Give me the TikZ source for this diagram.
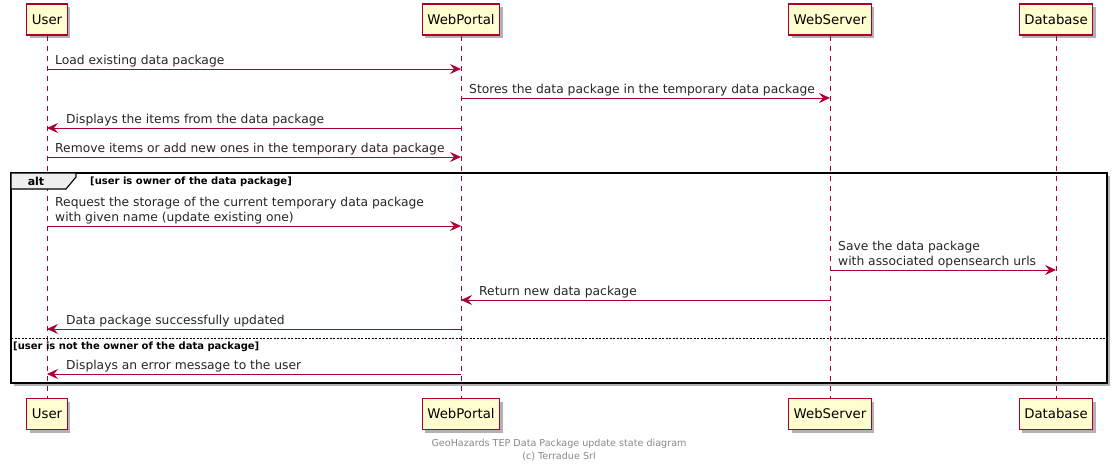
\documentclass[tikz,border=0pt]{standalone}
\usepackage{fontspec}
\setmainfont{DejaVu Sans}
\usetikzlibrary{arrows.meta,shadows}
\definecolor{puRed}{HTML}{A80036}
\definecolor{puFill}{HTML}{FEFECE}
\definecolor{puGray}{HTML}{888888}
\definecolor{tabGray}{HTML}{EEEEEE}
\begin{document}
\begin{tikzpicture}[x=1pt,y=-1pt,
  actor/.style={draw=puRed, line width=1.2pt, fill=puFill, minimum height=31pt, inner xsep=5pt,
    font=\fontsize{13.3}{15}\selectfont,
    drop shadow={shadow xshift=3pt, shadow yshift=-3pt, opacity=0.3, fill=black}},
  lifeline/.style={draw=puRed, line width=0.7pt, dash pattern=on 5pt off 5pt},
  msgarrow/.style={draw=puRed, line width=0.9pt, -{Stealth[length=11pt,width=10pt,inset=4pt]}},
  msg/.style={font=\fontsize{12.3}{14}\selectfont, inner sep=0pt, anchor=base west, text=black!85},
  guard/.style={font=\bfseries\fontsize{10}{12}\selectfont, inner sep=0pt, anchor=base west},
  foot/.style={font=\fontsize{9.6}{11}\selectfont, text=puGray, inner sep=0pt, anchor=base}
]
\useasboundingbox (0,0) rectangle (1118,471);

% alt frame background with shadow
\coordinate (fNW) at (11,173);
\coordinate (fSE) at (1107,383);
\path[fill=white, drop shadow={shadow xshift=3pt, shadow yshift=-3pt, opacity=0.3, fill=black}] (fNW) rectangle (fSE);

% participants
\node[actor] (uT) at (47,19.5) {User};
\node[actor] (wpT) at (461,19.5) {WebPortal};
\node[actor] (wsT) at (830,19.5) {WebServer};
\node[actor] (dbT) at (1056,19.5) {Database};
\node[actor] (uB) at (47,414) {User};
\node[actor] (wpB) at (461,414) {WebPortal};
\node[actor] (wsB) at (830,414) {WebServer};
\node[actor] (dbB) at (1056,414) {Database};

% lifelines
\draw[lifeline] (uT) -- (uB);
\draw[lifeline] (wpT) -- (wpB);
\draw[lifeline] (wsT) -- (wsB);
\draw[lifeline] (dbT) -- (dbB);

% frame border and tab
\draw[line width=1.6pt] (fNW) rectangle (fSE);
\draw[line width=1.1pt, fill=tabGray] (fNW) -- (76,173) -- (76,177) -- (66,189) -- (11,189) -- cycle;
\node[font=\bfseries\fontsize{11}{12}\selectfont, inner sep=0pt, anchor=base] (altlbl) at (36,185) {alt};
\node[guard] (g1) at (90,184) {[user is owner of the data package]};
\draw[line width=0.6pt, dash pattern=on 2pt off 1.5pt] (11,338) -- (1107,338);
\node[guard] (g2) at (13,349.5) {[user is not the owner of the data package]};

% message rows
\coordinate (y1) at (0,69);
\coordinate (y2) at (0,98);
\coordinate (y3) at (0,128);
\coordinate (y4) at (0,157);
\coordinate (y5) at (0,226);
\coordinate (y6) at (0,270);
\coordinate (y7) at (0,300);
\coordinate (y8) at (0,329);
\coordinate (y9) at (0,374);

\draw[msgarrow] (uT |- y1) -- (wpT |- y1);
\node[msg] (t1) at (55,64) {Load existing data package};

\draw[msgarrow] (wpT |- y2) -- (wsT |- y2);
\node[msg] (t2) at (469,93) {Stores the data package in the temporary data package};

\draw[msgarrow] (wpT |- y3) -- (uT |- y3);
\node[msg] (t3) at (66,123) {Displays the items from the data package};

\draw[msgarrow] (uT |- y4) -- (wpT |- y4);
\node[msg] (t4) at (55,152) {Remove items or add new ones in the temporary data package};

\draw[msgarrow] (uT |- y5) -- (wpT |- y5);
\node[msg] (t5a) at (55,206) {Request the storage of the current temporary data package};
\node[msg] (t5b) at (55,221) {with given name (update existing one)};

\draw[msgarrow] (wsT |- y6) -- (dbT |- y6);
\node[msg] (t6a) at (838,250) {Save the data package};
\node[msg] (t6b) at (838,265) {with associated opensearch urls};

\draw[msgarrow] (wsT |- y7) -- (wpT |- y7);
\node[msg] (t7) at (479,295) {Return new data package};

\draw[msgarrow] (wpT |- y8) -- (uT |- y8);
\node[msg] (t8) at (66,324) {Data package successfully updated};

\draw[msgarrow] (wpT |- y9) -- (uT |- y9);
\node[msg] (t9) at (66,369) {Displays an error message to the user};

% footer
\node[foot] (f1) at (559,446) {GeoHazards TEP Data Package update state diagram};
\node[foot] (f2) at (559,459) {(c) Terradue Srl};
\end{tikzpicture}
\end{document}
